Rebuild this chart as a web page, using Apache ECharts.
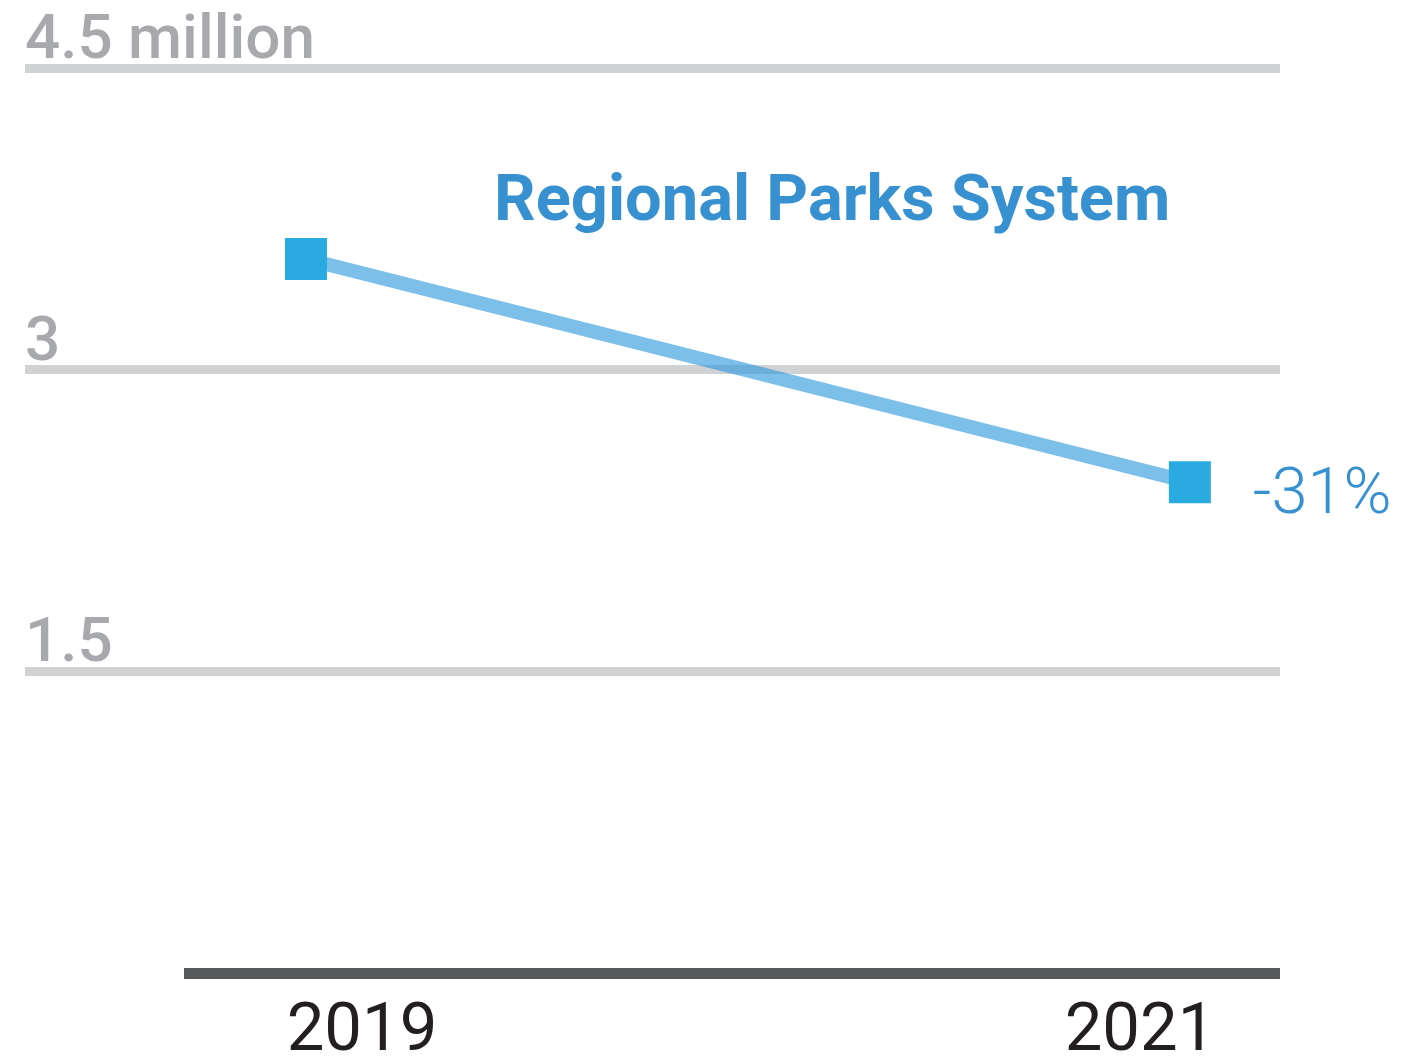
<!DOCTYPE html>
<html>
<head>
<meta charset="utf-8">
<script src="https://cdn.jsdelivr.net/npm/echarts@6/dist/echarts.min.js"></script>
<style>
html,body{margin:0;padding:0;background:#fff;}
#chart{width:1414px;height:1060px;}
</style>
</head>
<body>
<div id="chart"></div>
<script>
// ---- data ----
const years = ['2019', '2021'];
const visitors = [3.55, 2.44];          // millions
const yTickValues = [0, 1.5, 3, 4.5];
const yTickLabels = ['', '1.5', '3', '4.5 million'];
const seriesName = 'Regional Parks System';
const changeLabel = '-31%';

(function () {
const font = 'Roboto, "Liberation Sans", sans-serif';
const gTop = 68, gBottom = 1060 - 973, gRight = 1414 - 1280;

const chart = echarts.init(document.getElementById('chart'), null, {renderer: 'canvas'});

const yBase = {type: 'value', min: 0, max: 4.5, interval: 1.5};

chart.setOption({
  animation: false,
  backgroundColor: '#ffffff',
  title: {
    text: seriesName,
    left: 489,
    top: 166,
    textStyle: {fontFamily: font, fontWeight: 'bold', fontSize: 65, color: '#3791d1'}
  },
  grid: [
    {left: 25, right: gRight, top: gTop, bottom: gBottom, containLabel: false, outerBoundsMode: 'none'},
    {left: 184, right: gRight, top: gTop, bottom: gBottom, containLabel: false, outerBoundsMode: 'none'},
    {left: 362, right: 1414 - 1140, top: gTop, bottom: gBottom, containLabel: false, outerBoundsMode: 'none'}
  ],
  xAxis: [
    {gridIndex: 0, type: 'value', min: 0, max: 1, show: false},
    {gridIndex: 1, type: 'value', min: 2018.724, max: 2021.204,
      axisLine: {show: true, onZero: false, lineStyle: {color: '#58595b', width: 11, cap: 'butt'}},
      axisTick: {show: false}, axisLabel: {show: false}, splitLine: {show: false}},
    {gridIndex: 2, type: 'category', data: years, boundaryGap: false,
      axisLine: {show: false}, axisTick: {show: false}, splitLine: {show: false},
      axisLabel: {show: true, margin: 27, fontFamily: font, fontSize: 67, color: '#231f20'}}
  ],
  yAxis: [
    Object.assign({gridIndex: 0,
      axisLine: {show: false}, axisTick: {show: false},
      splitLine: {show: true, showMinLine: false, lineStyle: {color: '#d1d2d4', width: 9, cap: 'butt'}},
      axisLabel: {
        inside: true, margin: 0, align: 'left', verticalAlign: 'bottom', lineHeight: 51,
        fontFamily: font, fontWeight: 500, fontSize: 62, color: '#a7a9ac',
        formatter: v => { const i = yTickValues.indexOf(v); return i >= 0 ? yTickLabels[i] : ''; }
      }}, yBase),
    Object.assign({gridIndex: 1, show: false, splitLine: {show: false}}, yBase),
    Object.assign({gridIndex: 2, show: false, splitLine: {show: false}}, yBase)
  ],
  series: [{
    name: seriesName,
    type: 'line',
    xAxisIndex: 1,
    yAxisIndex: 1,
    data: years.map((y, i) => {
      const item = {value: [Number(y), visitors[i]]};
      if (i === years.length - 1) {
        item.label = {
          show: true, position: 'right', distance: 42, offset: [0, 14], formatter: changeLabel,
          fontFamily: font, fontWeight: 300, fontSize: 65, color: '#3791d1'
        };
      }
      return item;
    }),
    symbol: 'rect',
    symbolSize: 42,
    itemStyle: {color: '#29abe2'},
    lineStyle: {color: 'rgba(37,150,220,0.6)', width: 14},
    z: 5
  }]
});
})();
</script>
</body>
</html>
